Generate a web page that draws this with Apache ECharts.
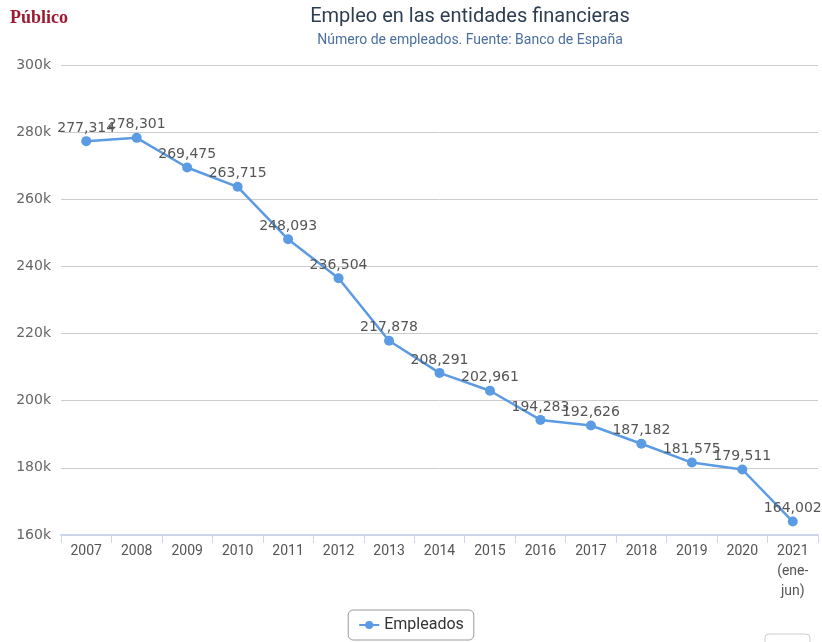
<!DOCTYPE html>
<html><head><meta charset="utf-8">
<script src="https://cdn.jsdelivr.net/npm/echarts@6/dist/echarts.min.js"></script>
<style>html,body{margin:0;padding:0;background:#fff}#c{width:822px;height:642px}</style>
</head><body><div id="c"></div>
<script>
const categories = ['2007','2008','2009','2010','2011','2012','2013','2014','2015','2016','2017','2018','2019','2020','2021\n(ene-\njun)'];
const empleados = [277314,278301,269475,263715,248093,236504,217878,208291,202961,194283,192626,187182,181575,179511,164002];
const seriesName = 'Empleados';
const chart = echarts.init(document.getElementById('c'));
chart.setOption({
  animation: false,
  backgroundColor: '#fff',
  title: [{
    text: 'Empleo en las entidades financieras',
    left: 465, top: 2, textAlign: 'center',
    textStyle: {fontFamily: 'Liberation Sans Narrow, Roboto', fontSize: 20, fontWeight: 'normal', color: '#2d3e50'},
    subtext: 'Número de empleados. Fuente: Banco de España',
    subtextStyle: {fontFamily: 'Liberation Sans Narrow, Roboto', fontSize: 14, color: '#4a6fa0'},
    itemGap: 6
  }, {
    text: 'Público', left: 5, top: 4,
    textStyle: {fontFamily: 'Liberation Serif, DejaVu Serif', fontSize: 18, fontWeight: 'bold', color: '#9b1b30'}
  }],
  legend: {
    bottom: 2, left: 'center',
    data: [seriesName],
    borderColor: '#999', borderWidth: 1, borderRadius: 5, padding: [7, 10],
    itemWidth: 20, itemHeight: 10,
    textStyle: {fontFamily: 'Liberation Sans Narrow, Roboto', fontSize: 16, color: '#333'}
  },
  grid: {left: 61, right: 4, top: 65, bottom: 107},
  xAxis: {
    type: 'category', data: categories, boundaryGap: true,
    axisLine: {lineStyle: {color: '#ccd6eb', width: 2}},
    axisTick: {show: true, lineStyle: {color: '#ccd6eb'}, length: 8},
    axisLabel: {fontFamily: 'Liberation Sans Narrow, Roboto', fontSize: 14, color: '#555', lineHeight: 20, margin: 6, interval: 0}
  },
  yAxis: {
    type: 'value', min: 160000, max: 300000, interval: 20000,
    axisLine: {show: false}, axisTick: {show: false},
    splitLine: {lineStyle: {color: '#cccccc'}},
    axisLabel: {fontFamily: 'DejaVu Sans', fontSize: 14, color: '#666', margin: 10,
      formatter: v => (v/1000) + 'k'}
  },
  series: [{
    name: seriesName, type: 'line', data: empleados,
    symbol: 'circle', symbolSize: 10,
    lineStyle: {color: '#5b9be3', width: 2.5},
    itemStyle: {color: '#5b9be3'},
    label: {show: true, position: 'top', distance: 1, fontFamily: 'DejaVu Sans', fontSize: 14, color: '#555',
      formatter: p => p.value.toLocaleString('en-US')}
  }],
  graphic: [{
    type: 'rect', shape: {x: 765, y: 634, width: 45, height: 20, r: 4},
    style: {fill: '#fff', stroke: '#ccc', lineWidth: 1}
  }]
});
</script></body></html>
